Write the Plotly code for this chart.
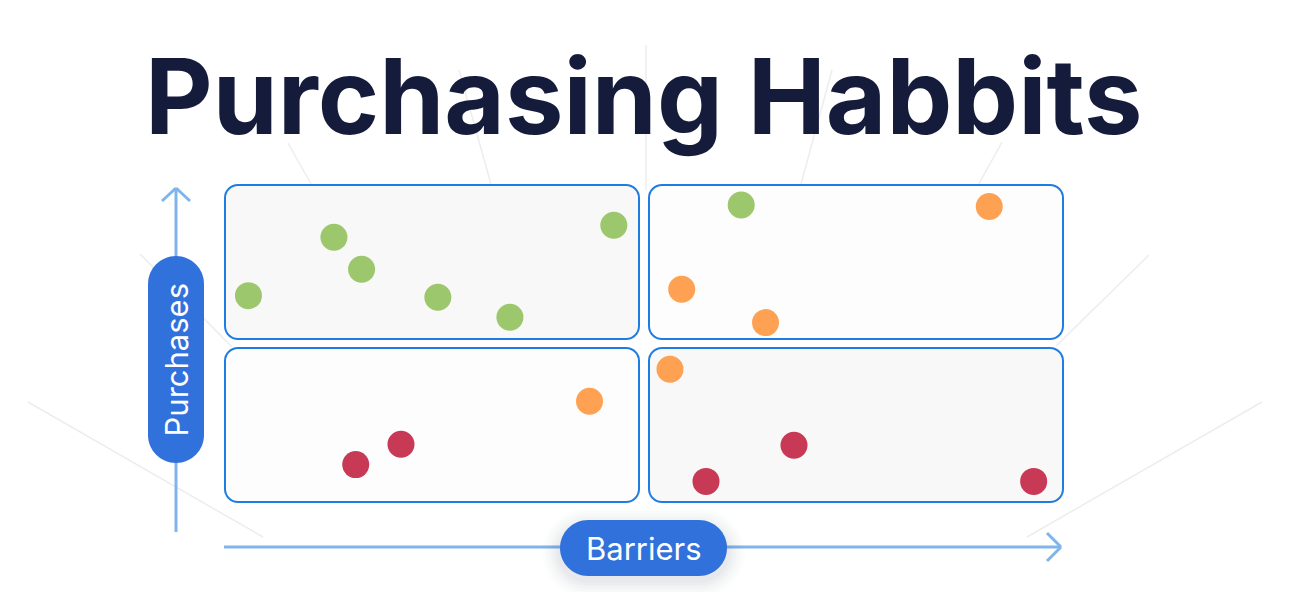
import plotly.graph_objects as go

# ---------------- data ----------------
TITLE = "Purchasing Habbits"
X_LABEL = "Barriers"
Y_LABEL = "Purchases"

green_barriers = [2.8, 13.0, 16.3, 25.4, 34.0, 46.4, 61.6]
green_purchases = [65.1, 83.5, 73.4, 64.6, 58.3, 87.3, 93.7]

orange_barriers = [91.2, 54.5, 64.5, 53.1, 43.5]
orange_purchases = [93.2, 67.1, 56.6, 41.9, 31.8]

red_barriers = [15.6, 21.0, 67.9, 57.4, 96.5]
red_purchases = [11.8, 18.2, 17.9, 6.5, 6.5]

GREEN = "#9cc76c"
ORANGE = "#ffa153"
RED = "#c73955"

# ---------------- canvas mapping ----------------
W, H = 1292, 592
PX0, PX1 = 225, 1063   # pixel x of data 0 and 100
PY0, PY1 = 502, 185    # pixel y of data 0 and 100


def dx(px):
    return (px - PX0) / (PX1 - PX0) * 100


def dy(py):
    return (PY0 - py) / (PY0 - PY1) * 100


def pt(px, py):
    return f"{dx(px):.4f},{dy(py):.4f}"


def rrect_path(x0, y0, x1, y1, r):
    k = 0.5523 * r
    p = [
        f"M{pt(x0 + r, y0)}",
        f"L{pt(x1 - r, y0)}",
        f"C{pt(x1 - r + k, y0)} {pt(x1, y0 + r - k)} {pt(x1, y0 + r)}",
        f"L{pt(x1, y1 - r)}",
        f"C{pt(x1, y1 - r + k)} {pt(x1 - r + k, y1)} {pt(x1 - r, y1)}",
        f"L{pt(x0 + r, y1)}",
        f"C{pt(x0 + r - k, y1)} {pt(x0, y1 - r + k)} {pt(x0, y1 - r)}",
        f"L{pt(x0, y0 + r)}",
        f"C{pt(x0, y0 + r - k)} {pt(x0 + r - k, y0)} {pt(x0 + r, y0)}",
        "Z",
    ]
    return " ".join(p)


shapes = []

# faint radiating background lines
FAINT = "#ededed"
faint_lines = [
    (646, 45, 646, 190),
    (459, 70, 494, 195),
    (288, 143, 320, 200),
    (832, 70, 798, 195),
    (1002, 142, 970, 200),
    (140, 254, 232, 347),
    (28, 402, 263, 537),
    (1149, 255, 1056, 346),
    (1262, 402, 1027, 537),
]
for x0, y0, x1, y1 in faint_lines:
    shapes.append(dict(type="line", xref="x", yref="y",
                       x0=dx(x0), y0=dy(y0), x1=dx(x1), y1=dy(y1),
                       line=dict(color=FAINT, width=1.5), layer="below"))

# quadrant panels
BORDER = "#1f7de2"
panels = [
    (225, 185, 639, 339, "#f8f8f8"),
    (649, 185, 1063, 339, "#fdfdfd"),
    (225, 348, 639, 502, "#fdfdfd"),
    (649, 348, 1063, 502, "#f8f8f8"),
]
for x0, y0, x1, y1, fc in panels:
    shapes.append(dict(type="path", xref="x", yref="y",
                       path=rrect_path(x0, y0, x1, y1, 13),
                       fillcolor=fc, line=dict(color=BORDER, width=2),
                       layer="below"))

# axis arrows
ARROW = "#80b5ec"
arrow_segments = [
    (176, 189, 176, 532),
    (162, 201, 176, 188),
    (176, 188, 190, 201),
    (224, 547, 1060, 547),
    (1047, 533, 1061, 547),
    (1061, 547, 1047, 561),
]
for x0, y0, x1, y1 in arrow_segments:
    shapes.append(dict(type="line", xref="x", yref="y",
                       x0=dx(x0), y0=dy(y0), x1=dx(x1), y1=dy(y1),
                       line=dict(color=ARROW, width=3), layer="below"))

# soft shadow beneath the Barriers pill
for i, op in enumerate([0.025, 0.022, 0.02, 0.017, 0.014, 0.011]):
    g = 3 + i * 3
    shapes.append(dict(type="path", xref="x", yref="y",
                       path=rrect_path(560 - g, 520 - g + 6, 727 + g, 576 + g + 4, 28 + g),
                       fillcolor=f"rgba(40,50,80,{op})", line=dict(width=0),
                       layer="below"))

# label pills
PILL = "#3171dc"
shapes.append(dict(type="path", xref="x", yref="y",
                   path=rrect_path(148, 256, 204, 463, 28),
                   fillcolor=PILL, line=dict(width=0), layer="below"))
shapes.append(dict(type="path", xref="x", yref="y",
                   path=rrect_path(560, 520, 727, 576, 28),
                   fillcolor=PILL, line=dict(width=0), layer="below"))

fig = go.Figure()
for xs, ys, c in [(green_barriers, green_purchases, GREEN),
                  (orange_barriers, orange_purchases, ORANGE),
                  (red_barriers, red_purchases, RED)]:
    fig.add_trace(go.Scatter(x=xs, y=ys, mode="markers",
                             marker=dict(size=27, color=c, line=dict(width=0)),
                             hoverinfo="skip", showlegend=False, cliponaxis=False))

annotations = [
    dict(text=TITLE, x=dx(644), y=dy(96), xref="x", yref="y",
         showarrow=False, xanchor="center", yanchor="middle",
         font=dict(family="Inter", size=104.5, color="#151b3b", weight=700)),
    dict(text=X_LABEL, x=dx(643.5), y=dy(548), xref="x", yref="y",
         showarrow=False, xanchor="center", yanchor="middle",
         font=dict(family="Inter", size=31, color="#ffffff")),
    dict(text=Y_LABEL, x=dx(176), y=dy(359.5), xref="x", yref="y",
         showarrow=False, xanchor="center", yanchor="middle", textangle=-90,
         font=dict(family="Inter", size=31, color="#ffffff")),
]

fig.update_layout(
    width=W, height=H,
    margin=dict(l=0, r=0, t=0, b=0),
    paper_bgcolor="#ffffff", plot_bgcolor="#ffffff",
    xaxis=dict(range=[dx(0), dx(W)], visible=False, fixedrange=True),
    yaxis=dict(range=[dy(H), dy(0)], visible=False, fixedrange=True),
    shapes=shapes, annotations=annotations,
)

fig.write_html("out.html", config={"displayModeBar": False})
